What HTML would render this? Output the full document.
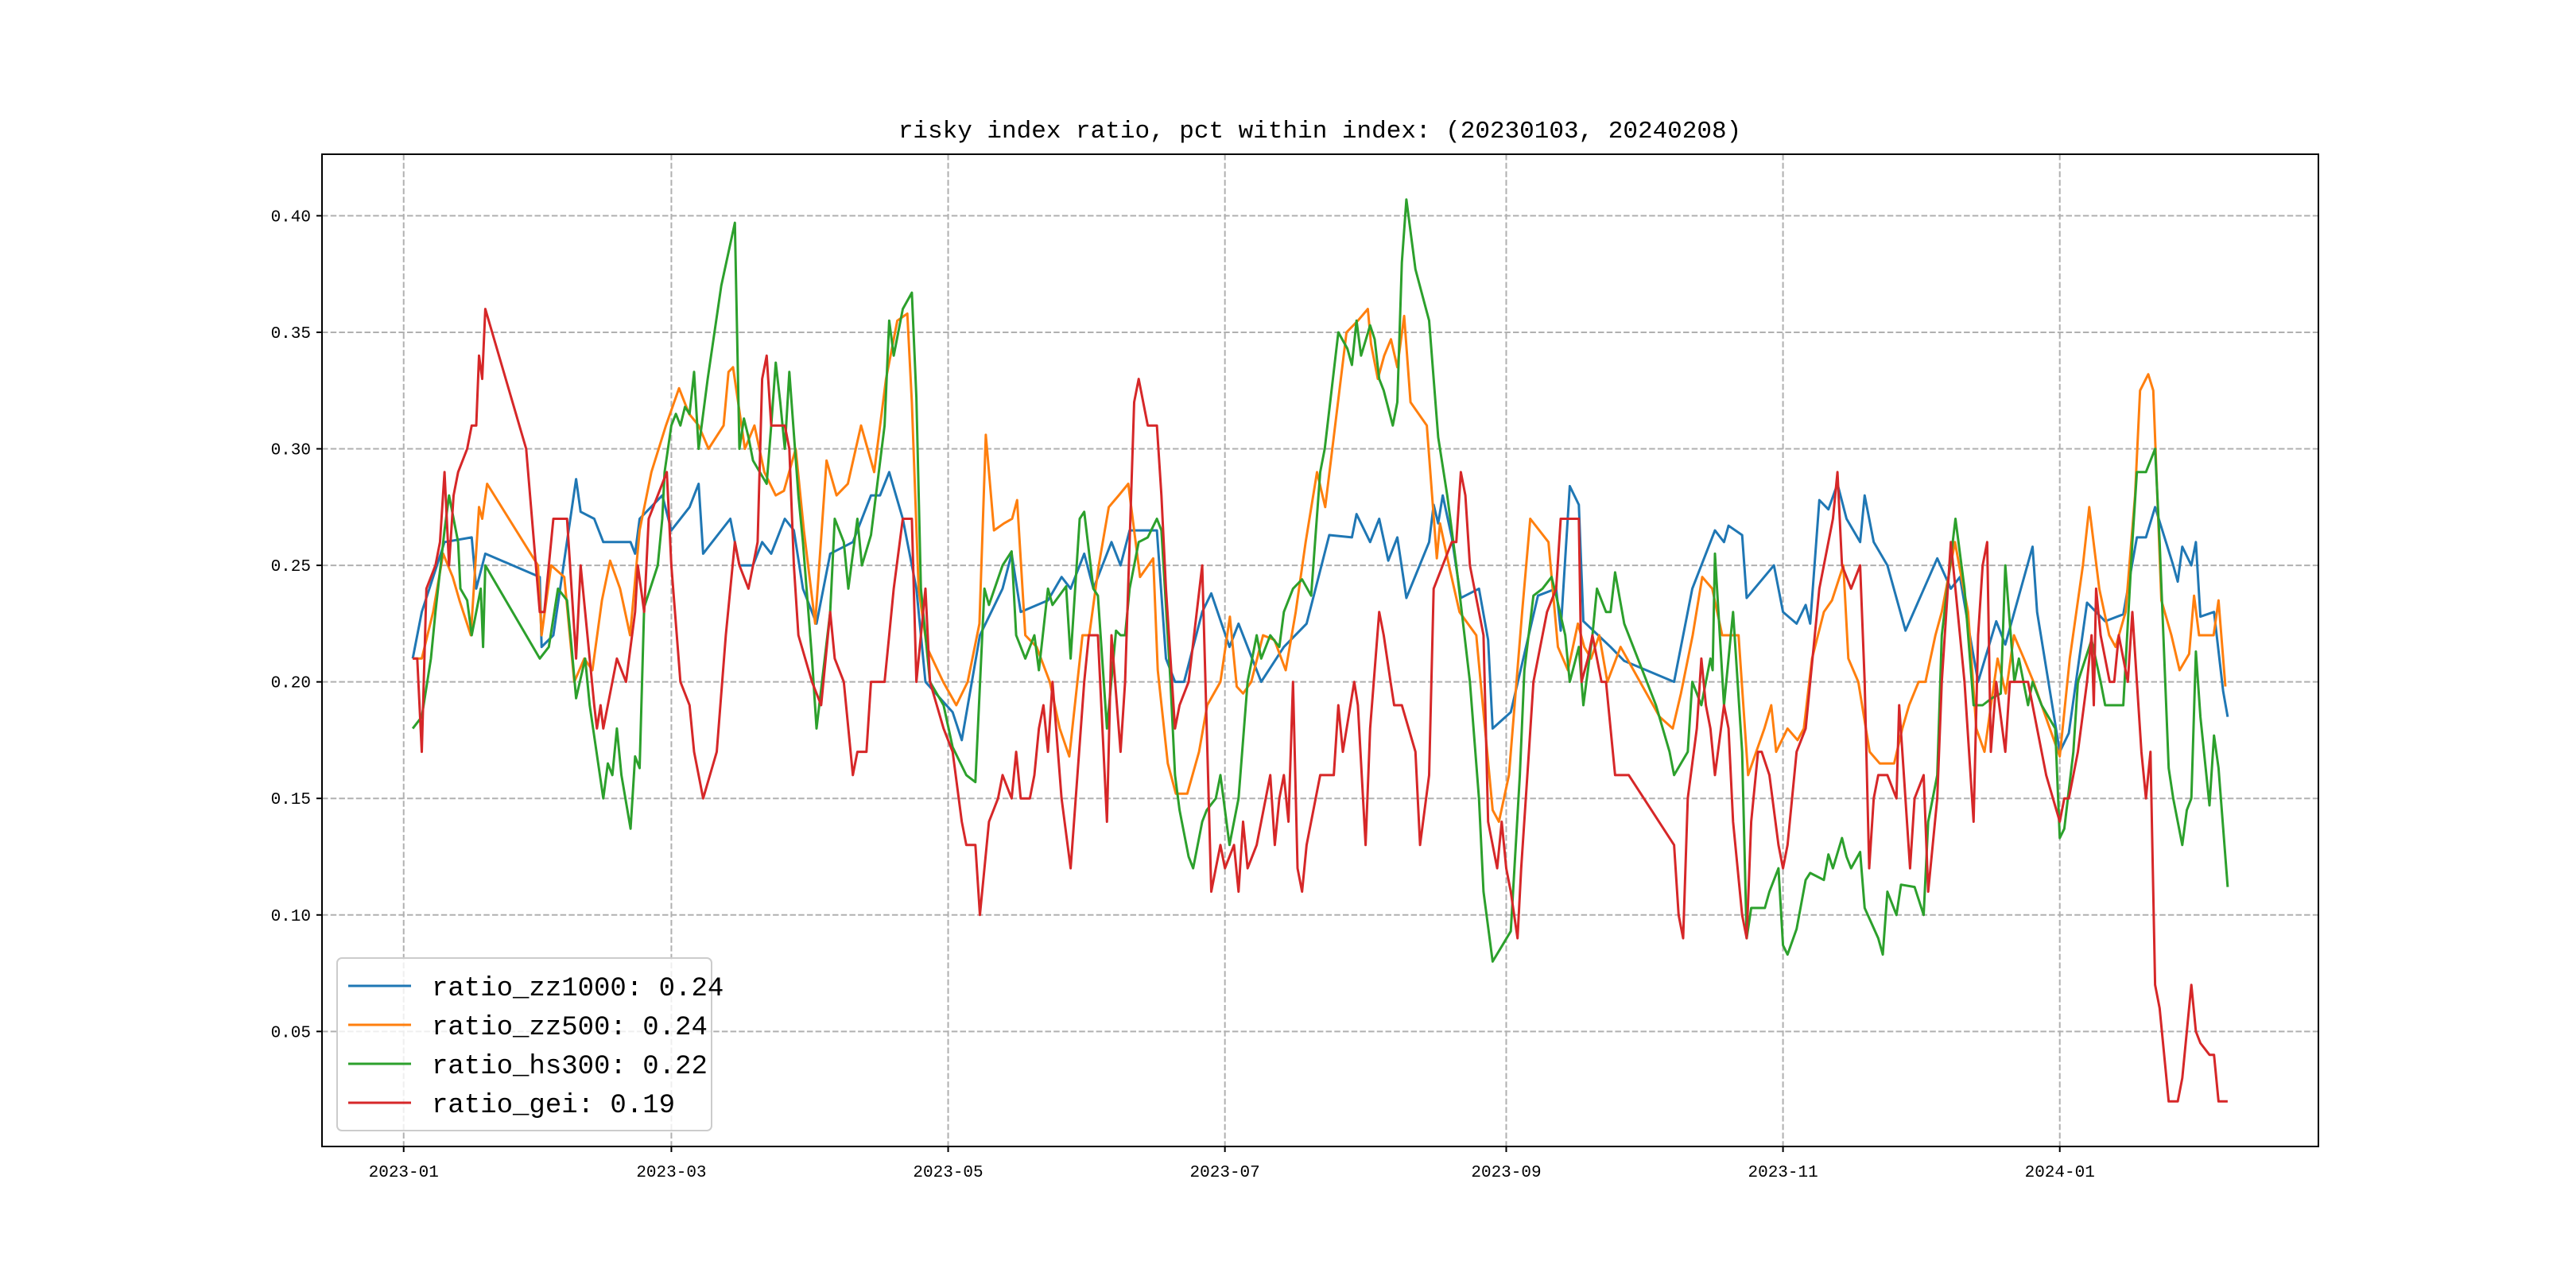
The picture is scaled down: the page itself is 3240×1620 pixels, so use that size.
<!DOCTYPE html>
<html><head><meta charset="utf-8"><style>
html,body{margin:0;padding:0;background:#fff;}
svg{display:block;}
text{font-family:"Liberation Mono","Noto Sans CJK SC",monospace;}
</style></head><body>
<svg id="chart" width="3240" height="1620" viewBox="0 0 3240 1620" xmlns="http://www.w3.org/2000/svg">
<rect x="0" y="0" width="3240" height="1620" fill="#fff"/>
<text x="1660" y="173" text-anchor="middle" font-size="31" fill="#000">risky index ratio, pct within index: (20230103, 20240208)</text>
<g id="grid"></g>
<g id="series"></g>
<rect x="405" y="194" width="2511" height="1248" fill="none" stroke="#000" stroke-width="2"/>
<g id="ticks"></g>
<g id="legend"></g>
</svg>
<script>
// x values are day offsets from 2023-01-01
const zz1000Days=[2,4,9,15,16,18,30,30.4,33,38,39,42,44,50,51,52,57,59,63,65,66,72,74,77,79,81,84,86,88,91,94,99,103,105,107,110,113,115,121,123,127,132,134,136,142,145,147,150,152,156,158,160,166,168,170,172,176,178,182,184,189,194,199,204,209,210,213,215,217,219,221,226,227,228,229,231,233,237,239,240,244,250,254,255,257,259,260,266,269,280,284,289,291,292,295,296,302,304,307,309,310,312,314,316,318,321,322,324,327,331,338,341,343,345,347,351,353,359,360,365,367,371,375,379,382,384,386,390,391,392,394,395,396,399,401,402];
const zz1000Vals=[0.21,0.23,0.26,0.262,0.24,0.255,0.245,0.215,0.22,0.287,0.273,0.27,0.26,0.26,0.255,0.27,0.28,0.265,0.275,0.285,0.255,0.27,0.25,0.25,0.26,0.255,0.27,0.265,0.24,0.225,0.255,0.26,0.28,0.28,0.29,0.27,0.24,0.2,0.187,0.175,0.22,0.24,0.255,0.23,0.235,0.245,0.24,0.255,0.24,0.26,0.25,0.265,0.265,0.21,0.2,0.2,0.23,0.238,0.215,0.225,0.2,0.215,0.225,0.263,0.262,0.272,0.26,0.27,0.252,0.262,0.236,0.26,0.276,0.268,0.28,0.262,0.236,0.24,0.218,0.18,0.187,0.237,0.24,0.222,0.284,0.276,0.226,0.215,0.209,0.2,0.24,0.265,0.26,0.267,0.263,0.236,0.25,0.23,0.225,0.233,0.225,0.278,0.274,0.285,0.27,0.26,0.28,0.26,0.25,0.222,0.253,0.24,0.245,0.222,0.2,0.226,0.216,0.258,0.23,0.17,0.178,0.234,0.226,0.229,0.262,0.262,0.275,0.25,0.243,0.258,0.25,0.26,0.228,0.23,0.196,0.185];
const zz500Days=[2,4,6.5,8.7,10.8,12.3,14.8,16.6,17.3,18.4,29.6,30.4,32.5,35.4,37.6,39.8,41.6,43.7,45.5,47.7,49.9,52,54.6,57.8,60.7,62.9,65,67.2,70.5,71.6,72.6,75.2,77.3,79.5,82,83.8,86.4,88.2,90.7,93.2,95.4,97.9,100.8,103.7,106.3,108.8,111,112,113.5,115.3,118.9,121.8,124.3,126.9,128.3,130.1,132.3,134.1,135.2,137,139.5,142.4,144.6,146.7,149.6,151.1,153.2,155.4,157.6,159.7,162.3,165.2,166.2,168.4,170.2,172.7,175.3,177.1,180,182.1,183.6,185,186.8,189.4,191.9,194.4,196.6,198.8,201.3,203.1,205.3,207.8,210.3,212.5,213.2,214.7,216.1,217.6,219,220.5,221.9,225.5,227.7,228.4,230.6,232.7,236.4,240,241.4,243.6,246.5,248.3,252.3,254.4,256.6,258.8,260.2,261.7,263.5,265.3,268.2,272.5,276.8,279.7,281.5,284.1,286.2,288.4,290.6,294.2,296.3,299.9,301.4,302.5,305,307.2,308.6,310.4,313,314.8,317.3,318.4,320.6,323.1,325.3,328.5,330.3,331.8,333.9,335.4,337.6,339,341.9,343.3,344.8,346.6,348.4,351.3,353.1,354.9,357.1,359.2,362.8,365,367.2,370.1,371.5,373.7,375.9,377.3,379.5,381.6,382.7,384.5,385.6,387.4,389.6,391.4,393.5,394.6,395.7,398.9,400,401.5];
const zz500Vals=[0.21,0.21,0.23,0.255,0.245,0.235,0.22,0.275,0.27,0.285,0.25,0.22,0.25,0.245,0.2,0.21,0.205,0.235,0.252,0.24,0.22,0.265,0.29,0.31,0.326,0.315,0.31,0.3,0.31,0.333,0.335,0.3,0.31,0.29,0.28,0.282,0.3,0.265,0.225,0.295,0.28,0.285,0.31,0.29,0.33,0.355,0.358,0.32,0.24,0.215,0.2,0.19,0.2,0.225,0.306,0.265,0.268,0.27,0.278,0.22,0.215,0.2,0.18,0.168,0.22,0.22,0.25,0.275,0.28,0.285,0.245,0.253,0.205,0.165,0.152,0.152,0.17,0.19,0.2,0.228,0.198,0.195,0.2,0.22,0.218,0.205,0.23,0.26,0.29,0.275,0.31,0.35,0.355,0.36,0.345,0.33,0.34,0.347,0.335,0.357,0.32,0.31,0.253,0.268,0.248,0.23,0.22,0.145,0.14,0.16,0.23,0.27,0.26,0.215,0.205,0.225,0.215,0.21,0.22,0.2,0.215,0.2,0.185,0.18,0.195,0.22,0.245,0.24,0.22,0.22,0.16,0.18,0.19,0.17,0.18,0.175,0.18,0.21,0.23,0.235,0.25,0.21,0.2,0.17,0.165,0.165,0.18,0.19,0.2,0.2,0.22,0.23,0.26,0.245,0.23,0.18,0.17,0.21,0.195,0.22,0.21,0.2,0.18,0.168,0.21,0.25,0.275,0.24,0.22,0.215,0.23,0.28,0.325,0.332,0.325,0.235,0.22,0.205,0.212,0.237,0.22,0.22,0.235,0.198];
const hs300Days=[2,4,6,7,9,10,12,12.5,14,15,17,17.5,18,30,32,34,36,37,38,40,41,44,45,46,47,48,50,51,52,53,56,57,57.5,59,60,61,62,63,64,65,67,70,73,74,75,76,77,80,81,82,83,84,85,87,88,90,91,94,95,97,98,100,101,103,106,107,108,110,112,113,114,116,119,121,124,126,128,129,132,134,135,137,139,140,142,143,146,147,149,150,152,153,155,157,158,159,160,162,164,166,167,169,170,171,173,174,176,177,179,180,182,184,186,188,189,191,193,194,196,198,200,202,203,206,208,209,210,211,213,214,215,216,218,219,220,221,223,226,227,228,230,232,235,237,238,240,244,246,247,249,251,253,254,256,257,259,260,262,263,265,266,267,269,272,276,279,280,283,284,286,288,288.5,289,291,293,294,295,296,297,300,301,303,304,305,307,309,310,313,314,315,317,318,319,321,322,325,326,327,329,330,333,335,336,338,339,342,344,345,346,348,350,352,353,355,356,358,359,361,364,365,366,368,369,372,374,375,377,379,381,382,384,386,387,389,390,392,393,394,395,396,398,399,400,402];
const hs300Vals=[0.18,0.185,0.21,0.23,0.265,0.28,0.26,0.24,0.235,0.22,0.24,0.215,0.25,0.21,0.215,0.24,0.235,0.215,0.193,0.21,0.19,0.15,0.165,0.16,0.18,0.16,0.137,0.168,0.163,0.232,0.25,0.27,0.29,0.31,0.315,0.31,0.318,0.315,0.333,0.3,0.33,0.37,0.397,0.3,0.313,0.305,0.295,0.285,0.31,0.337,0.32,0.3,0.333,0.28,0.26,0.21,0.18,0.23,0.27,0.26,0.24,0.27,0.25,0.263,0.31,0.355,0.34,0.36,0.367,0.322,0.24,0.2,0.19,0.172,0.16,0.157,0.24,0.233,0.25,0.256,0.22,0.21,0.22,0.205,0.24,0.233,0.241,0.21,0.27,0.273,0.24,0.237,0.18,0.222,0.22,0.22,0.24,0.26,0.262,0.27,0.265,0.2,0.16,0.145,0.125,0.12,0.14,0.145,0.15,0.16,0.13,0.15,0.2,0.22,0.21,0.22,0.215,0.23,0.24,0.244,0.237,0.29,0.3,0.35,0.343,0.336,0.355,0.34,0.353,0.347,0.33,0.325,0.31,0.32,0.38,0.407,0.377,0.355,0.33,0.305,0.28,0.25,0.2,0.15,0.11,0.08,0.093,0.16,0.205,0.237,0.24,0.245,0.237,0.22,0.2,0.215,0.19,0.22,0.24,0.23,0.23,0.247,0.225,0.21,0.19,0.17,0.16,0.17,0.2,0.19,0.21,0.205,0.255,0.19,0.23,0.2,0.17,0.09,0.103,0.103,0.11,0.12,0.087,0.083,0.094,0.115,0.118,0.115,0.126,0.12,0.133,0.125,0.12,0.127,0.103,0.09,0.083,0.11,0.1,0.113,0.112,0.1,0.14,0.16,0.22,0.27,0.24,0.215,0.19,0.19,0.193,0.195,0.25,0.2,0.21,0.19,0.2,0.19,0.18,0.133,0.137,0.17,0.2,0.218,0.2,0.19,0.19,0.19,0.26,0.29,0.29,0.3,0.26,0.163,0.15,0.13,0.145,0.15,0.213,0.185,0.147,0.177,0.163,0.112];
const geiDays=[2,3,4,5,7,8,9,10,11,12,14,15,16,16.6,17.3,18,27,30,31,33,36,38,39,40,42,42.6,43.4,44,46,47,49,51,51.6,53,54,56,58,59,61,63,64,66,69,71,73,74,76,78,79,80,81,84,85,86,87,90,92,94,95,97,99,100,102,103,105,106,107,108,110,112,113,115,116,119,121,123,124,126,127,128,129,131,132,134,135,136,138,139,140,141,142,143,145,147,150,151,153,155,156,158,159,161,162,164,166,167,168,170,171,173,176,178,179,180,181,183,184,185,186,188,189,191,192,193,194,195,196,197,198,199,200,202,205,206,207,209.5,210.3,212,213,215,216,217.5,218.3,220,223,224,226,227,229,231,232,233,234,235,236,238,239,241,242,243,244,245.5,246.3,248,249,251,252,254,255,257,259,259.6,261,262,264,265,267,270,280,281,282,283,285,286,287,288,289,291,292,293,295,296,297,298.5,299.3,301,303,304,305,307,309,312,314,315,316,317,319,321,322,323,324,325,327,329,329.6,330.3,332,333,335,336,338,339,341,343,344,346,347,348,349,349.8,351,353,354,356,358,360,362,365,366,367,369,371,372,372.5,373,374,376,377,378,379,380,381,382,383,384,385,386,387,389,391,392,394,395,396,398,399,400,402];
const geiVals=[0.21,0.21,0.17,0.24,0.25,0.26,0.29,0.25,0.28,0.29,0.3,0.31,0.31,0.34,0.33,0.36,0.3,0.23,0.23,0.27,0.27,0.21,0.25,0.23,0.19,0.18,0.19,0.18,0.2,0.21,0.2,0.23,0.25,0.23,0.27,0.28,0.29,0.25,0.2,0.19,0.17,0.15,0.17,0.22,0.26,0.25,0.24,0.26,0.33,0.34,0.31,0.31,0.3,0.25,0.22,0.2,0.19,0.23,0.21,0.2,0.16,0.17,0.17,0.2,0.2,0.2,0.22,0.24,0.27,0.27,0.2,0.24,0.2,0.18,0.17,0.14,0.13,0.13,0.1,0.12,0.14,0.15,0.16,0.15,0.17,0.15,0.15,0.16,0.18,0.19,0.17,0.2,0.15,0.12,0.2,0.22,0.22,0.14,0.22,0.17,0.2,0.32,0.33,0.31,0.31,0.28,0.24,0.18,0.19,0.2,0.25,0.11,0.12,0.13,0.12,0.13,0.11,0.14,0.12,0.13,0.14,0.16,0.13,0.15,0.16,0.14,0.2,0.12,0.11,0.13,0.14,0.16,0.16,0.19,0.17,0.2,0.19,0.13,0.18,0.23,0.22,0.2,0.19,0.19,0.17,0.13,0.16,0.24,0.25,0.26,0.26,0.29,0.28,0.25,0.24,0.22,0.14,0.12,0.14,0.12,0.11,0.09,0.12,0.17,0.2,0.22,0.23,0.24,0.27,0.27,0.27,0.2,0.21,0.22,0.2,0.2,0.16,0.16,0.13,0.1,0.09,0.15,0.18,0.21,0.19,0.18,0.16,0.19,0.18,0.14,0.1,0.09,0.14,0.17,0.17,0.16,0.13,0.12,0.13,0.17,0.18,0.24,0.26,0.27,0.29,0.25,0.24,0.25,0.2,0.12,0.15,0.16,0.16,0.15,0.19,0.17,0.12,0.15,0.16,0.11,0.15,0.2,0.26,0.22,0.2,0.14,0.22,0.25,0.26,0.17,0.2,0.17,0.2,0.2,0.2,0.18,0.16,0.14,0.15,0.15,0.17,0.2,0.22,0.19,0.24,0.22,0.2,0.2,0.22,0.21,0.2,0.23,0.2,0.17,0.15,0.17,0.07,0.06,0.02,0.02,0.03,0.07,0.05,0.045,0.04,0.04,0.02,0.02];
const yTickVals=[0.05,0.10,0.15,0.20,0.25,0.30,0.35,0.40];
const yTickLabels=["0.05","0.10","0.15","0.20","0.25","0.30","0.35","0.40"];
const xTickDays=[0,59,120,181,243,304,365];
const xTickLabels=["2023-01","2023-03","2023-05","2023-07","2023-09","2023-11","2024-01"];
const seriesNames=["ratio_zz1000: 0.24","ratio_zz500: 0.24","ratio_hs300: 0.22","ratio_gei: 0.19"];
const seriesColors=["#1f77b4","#ff7f0e","#2ca02c","#d62728"];

const NS="http://www.w3.org/2000/svg";
const L=405,R=2916,T=194,B=1442;
const X0=-18,X1=422,Y0=0.00065,Y1=0.4264;
function xs(d){return L+(d-X0)/(X1-X0)*(R-L);}
function ys(v){return B-(v-Y0)/(Y1-Y0)*(B-T);}
function mk(tag,attrs,parent){const e=document.createElementNS(NS,tag);for(const k in attrs)e.setAttribute(k,attrs[k]);parent.appendChild(e);return e;}
const grid=document.getElementById('grid'),ticks=document.getElementById('ticks'),sg=document.getElementById('series'),lg=document.getElementById('legend');
xTickDays.forEach((d,i)=>{
  const x=xs(d);
  const g=mk('line',{x1:x,x2:x,y1:T,y2:B,stroke:'#b0b0b0','stroke-width':2,'stroke-dasharray':'7.5,3.2'},grid);
  
  
  const t=mk('line',{x1:x,x2:x,y1:B,y2:B+7,stroke:'#000','stroke-width':2},ticks);
  
  
  const tx=mk('text',{x:x,y:B+38,'text-anchor':'middle','font-size':21,fill:'#000'},ticks);
  tx.textContent=xTickLabels[i];
  
  
});
yTickVals.forEach((v,i)=>{
  const y=ys(v);
  const g=mk('line',{x1:L,x2:R,y1:y,y2:y,stroke:'#b0b0b0','stroke-width':2,'stroke-dasharray':'7.5,3.2'},grid);
  
  
  const t=mk('line',{x1:L-7,x2:L,y1:y,y2:y,stroke:'#000','stroke-width':2},ticks);
  
  
  const tx=mk('text',{x:L-14,y:y+7,'text-anchor':'end','font-size':21,fill:'#000'},ticks);
  tx.textContent=yTickLabels[i];
  
  
});
const allDays=[zz1000Days,zz500Days,hs300Days,geiDays];
const allVals=[zz1000Vals,zz500Vals,hs300Vals,geiVals];
const lineNames=['line-zz1000','line-zz500','line-hs300','line-gei'];
allDays.forEach((days,s)=>{
  const vals=allVals[s];
  const pts=days.map((d,i)=>xs(d).toFixed(1)+','+ys(vals[i]).toFixed(1)).join(' ');
  const p=mk('polyline',{points:pts,fill:'none',stroke:seriesColors[s],'stroke-width':3,'stroke-linejoin':'round'},sg);
  
  
});
const box=mk('rect',{x:424,y:1205,width:471,height:217,rx:6,fill:'#fff','fill-opacity':0.8,stroke:'#cccccc','stroke-width':2},lg);


seriesNames.forEach((n,i)=>{
  const y=1240+i*49;
  const l=mk('line',{x1:438,x2:517,y1:y,y2:y,stroke:seriesColors[i],'stroke-width':3},lg);
  
  
  const t=mk('text',{x:543,y:y+12,'font-size':34,fill:'#000'},lg);
  t.textContent=n;
  
  
});
</script>
</body></html>
